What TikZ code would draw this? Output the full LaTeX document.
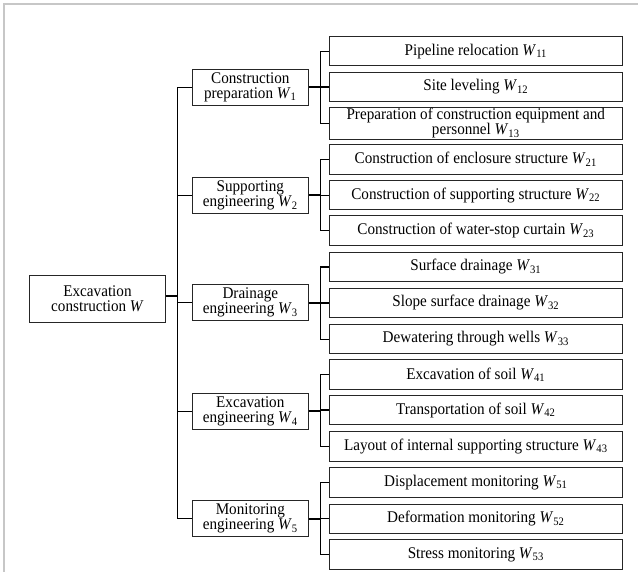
\documentclass[tikz,border=0pt]{standalone}
\usepackage{fontspec}
\setmainfont{Liberation Serif}[FakeStretch=0.93]
\newcommand{\Wsub}[1]{\textit{W}\textsubscript{#1}}
\begin{document}
\begin{tikzpicture}[x=1pt,y=-1pt,
  every node/.style={font=\fontsize{16.3}{15}\selectfont, inner sep=0pt, align=center},
  rootbox/.style={draw=black!85, line width=0.9pt, minimum width=136pt, minimum height=47pt},
  midbox/.style={draw=black!85, line width=0.9pt, minimum width=116pt, minimum height=36pt},
  leafbox/.style={draw=black!85, line width=0.9pt, minimum width=293pt, minimum height=29.5pt},
  conn/.style={black, line width=1.1pt},
  thickconn/.style={black, line width=1.8pt},
  frameline/.style={black!22, line width=1.3pt}]
\useasboundingbox (0,0) rectangle (638,572);
\fill[white] (0,0) rectangle (638,572);
\draw[frameline] (4,572) -- (4,4) -- (638,4);

\coordinate (tk) at (177.3,0);
\coordinate (bk) at (320.3,0);

\node[rootbox] (root) at (97.5,299) {Excavation\\construction \textit{W}};

\node[midbox] (W1) at (250.3,87.2) {Construction\\preparation \Wsub{1}};
\node[midbox] (W2) at (250.3,195.3) {Supporting\\engineering \Wsub{2}};
\node[midbox] (W3) at (250.3,302.8) {Drainage\\engineering \Wsub{3}};
\node[midbox] (W4) at (250.3,411.3) {Excavation\\engineering \Wsub{4}};
\node[midbox] (W5) at (250.3,518.8) {Monitoring\\engineering \Wsub{5}};

\node[leafbox] (L11) at (475.8,51.2) {Pipeline relocation \Wsub{11}};
\node[leafbox] (L12) at (475.8,87) {Site leveling \Wsub{12}};
\node[leafbox, minimum height=32pt] (L13) at (475.8,123.3) {Preparation of construction equipment and\\personnel \Wsub{13}};
\node[leafbox] (L21) at (475.8,159.5) {Construction of enclosure structure \Wsub{21}};
\node[leafbox] (L22) at (475.8,195.2) {Construction of supporting structure \Wsub{22}};
\node[leafbox] (L23) at (475.8,230.5) {Construction of water-stop curtain \Wsub{23}};
\node[leafbox] (L31) at (475.8,267) {Surface drainage \Wsub{31}};
\node[leafbox] (L32) at (475.8,303) {Slope surface drainage \Wsub{32}};
\node[leafbox] (L33) at (475.8,339.1) {Dewatering through wells \Wsub{33}};
\node[leafbox] (L41) at (475.8,374.7) {Excavation of soil \Wsub{41}};
\node[leafbox] (L42) at (475.8,410) {Transportation of soil \Wsub{42}};
\node[leafbox] (L43) at (475.8,446.3) {Layout of internal supporting structure \Wsub{43}};
\node[leafbox] (L51) at (475.8,482.5) {Displacement monitoring \Wsub{51}};
\node[leafbox] (L52) at (475.8,518.7) {Deformation monitoring \Wsub{52}};
\node[leafbox] (L53) at (475.8,554.4) {Stress monitoring \Wsub{53}};

% root to trunk
\draw[thickconn] ([yshift=3pt]root.east) -- ([yshift=3pt]root.east -| tk);
% trunk
\draw[conn] (W1.west) -- (W1.west -| tk) -- (W5.west -| tk) -- (W5.west);
\foreach \i in {2,3,4} {\draw[conn] (W\i.west) -- (W\i.west -| tk);}
% branches
\foreach \i in {1,...,5} {
  \draw[thickconn] (W\i.east) -- (W\i.east -| bk);
  \draw[conn] (L\i1.west) -- (L\i1.west -| bk) -- (L\i3.west -| bk) -- (L\i3.west);
  \draw[conn] (L\i2.west) -- (L\i2.west -| bk);
}
\end{tikzpicture}
\end{document}
